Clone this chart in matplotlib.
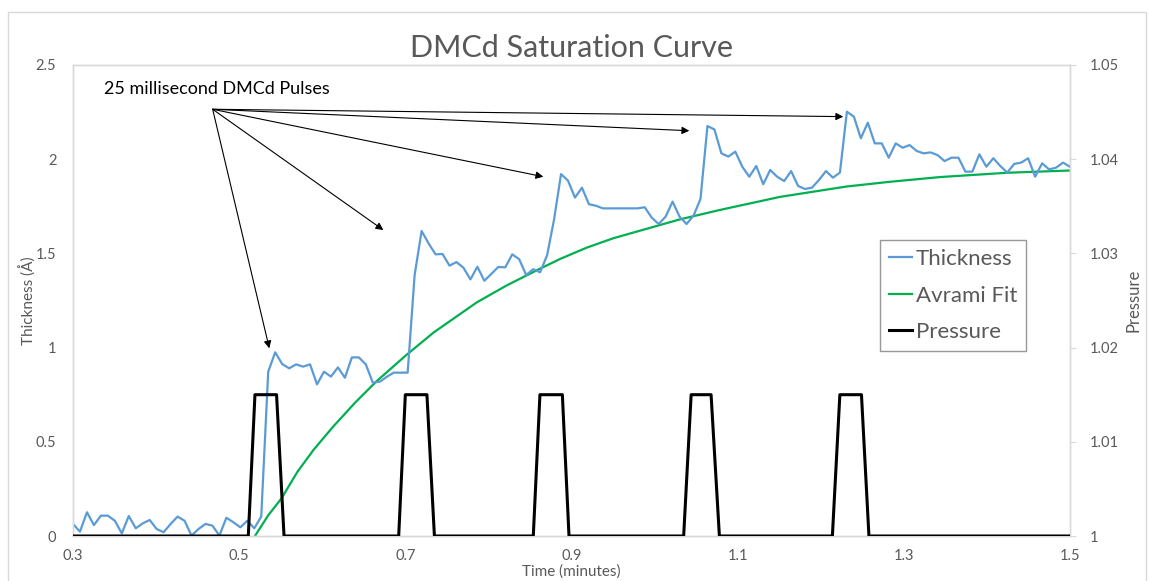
import numpy as np
import matplotlib
matplotlib.use("Agg")
import matplotlib.pyplot as plt
from matplotlib.lines import Line2D
from matplotlib.patches import Rectangle

plt.rcParams["font.family"] = ["Lato", "DejaVu Sans"]

# film thickness (Angstrom), one sample every ~0.5 s from 0.3 to 1.5 min
thickness = [
    0.064, 0.023, 0.126, 0.058, 0.108, 0.108, 0.081, 0.014, 0.106, 0.041,
    0.067, 0.085, 0.037, 0.020, 0.064, 0.103, 0.081, 0.002, 0.037, 0.064,
    0.055, 0.002, 0.097, 0.073, 0.046, 0.081, 0.041, 0.103,
    0.872, 0.975, 0.913, 0.890, 0.911, 0.899, 0.911, 0.805, 0.872, 0.846,
    0.895, 0.840, 0.948, 0.948, 0.911, 0.814, 0.819, 0.845, 0.867, 0.867,
    0.867,
    1.385, 1.619, 1.553, 1.495, 1.497, 1.435, 1.454, 1.424, 1.362, 1.429,
    1.355, 1.391, 1.428, 1.426, 1.495, 1.469, 1.385, 1.416, 1.400, 1.490,
    1.680,
    1.921, 1.886, 1.796, 1.849, 1.761, 1.753, 1.739, 1.739, 1.739, 1.739,
    1.739, 1.739, 1.745, 1.690, 1.656, 1.695, 1.775, 1.695, 1.656, 1.700,
    1.789,
    2.176, 2.158, 2.031, 2.014, 2.040, 1.960, 1.907, 1.964, 1.867, 1.943,
    1.907, 1.884, 1.937, 1.858, 1.842, 1.849, 1.890, 1.937, 1.902, 1.929,
    2.252, 2.226, 2.111, 2.194, 2.084, 2.084, 2.008, 2.084, 2.061, 2.075,
    2.044, 2.031, 2.036, 2.022, 1.990, 2.008, 2.008, 1.934, 1.934, 2.026,
    1.960, 2.005, 1.964, 1.929, 1.975, 1.982, 2.005, 1.907, 1.978, 1.946,
    1.955, 1.982, 1.960,
]
time_min = np.linspace(0.3, 1.5, len(thickness))

# Avrami fit evaluated along the run
avrami_t = [0.519, 0.535, 0.551, 0.570, 0.590, 0.613, 0.640, 0.665, 0.701,
            0.734, 0.760, 0.786, 0.822, 0.858, 0.886, 0.918, 0.950, 0.998,
            1.030, 1.078, 1.151, 1.231, 1.283, 1.343, 1.424, 1.500]
avrami_fit = [0.000, 0.110, 0.200, 0.340, 0.460, 0.580, 0.710, 0.820, 0.960,
              1.080, 1.160, 1.240, 1.330, 1.410, 1.470, 1.530, 1.580, 1.640,
              1.680, 1.730, 1.800, 1.855, 1.880, 1.905, 1.928, 1.940]

# chamber pressure trace, five 25 ms DMCd pulses
pressure_t = [0.300,
              0.511, 0.519, 0.545, 0.554,
              0.692, 0.700, 0.726, 0.735,
              0.854, 0.862, 0.889, 0.897,
              1.035, 1.044, 1.068, 1.078,
              1.214, 1.223, 1.249, 1.258,
              1.500]
pressure = [1.0,
            1.0, 1.015, 1.015, 1.0,
            1.0, 1.015, 1.015, 1.0,
            1.0, 1.015, 1.015, 1.0,
            1.0, 1.015, 1.015, 1.0,
            1.0, 1.015, 1.015, 1.0,
            1.0]

# arrow heads pointing at the thickness jump after each pulse
arrow_tips = [(0.5363, 0.996), (0.6735, 1.624), (0.8661, 1.907),
              (1.0418, 2.151), (1.2271, 2.226)]
arrow_origin = (0.4681, 2.265)

grey = "#595959"
spine_grey = "#d9d9d9"

fig = plt.figure(figsize=(11.49, 5.81), dpi=100)
ax = fig.add_axes([73 / 1149, 1 - 536 / 581, 997 / 1149, 471 / 581])
ax2 = ax.twinx()

# outer chart frame
fig.patches.append(Rectangle((8 / 1149, -0.05), 1138 / 1149, 1.05 - 12 / 581,
                             transform=fig.transFigure, fill=False,
                             edgecolor="#d9d9d9", lw=1.0))

ax.plot(time_min, thickness, color="#5B9BD5", lw=1.6, zorder=3)
ax.plot(avrami_t, avrami_fit, color="#00B050", lw=1.6, zorder=2)
ax2.plot(pressure_t, pressure, color="black", lw=2.2, zorder=4)

ax.set_xlim(0.3, 1.5)
ax.set_ylim(0, 2.5)
ax2.set_ylim(1.0, 1.05)
ax.set_xticks([0.3, 0.5, 0.7, 0.9, 1.1, 1.3, 1.5])
ax.set_xticklabels(["0.3", "0.5", "0.7", "0.9", "1.1", "1.3", "1.5"])
ax.set_yticks([0, 0.5, 1, 1.5, 2, 2.5])
ax.set_yticklabels(["0", "0.5", "1", "1.5", "2", "2.5"])
ax2.set_yticks([1.0, 1.01, 1.02, 1.03, 1.04, 1.05])
ax2.set_yticklabels(["1", "1.01", "1.02", "1.03", "1.04", "1.05"])

for a in (ax, ax2):
    for s in a.spines.values():
        s.set_color(spine_grey)
        s.set_linewidth(1.0)
ax.tick_params(axis="both", length=0, labelsize=10.5, labelcolor=grey, pad=12)
ax.tick_params(axis="x", pad=9)
ax2.tick_params(axis="y", length=4, color=spine_grey, labelsize=10.5,
                labelcolor=grey, pad=10)

ax.set_xlabel("Time (minutes)", fontsize=11, color=grey, labelpad=1)
ax.set_ylabel("Thickness (Å)", fontsize=11, color=grey, labelpad=-1)
ax2.set_ylabel("Pressure", fontsize=12, color=grey, labelpad=5)
ax.set_title("DMCd Saturation Curve", fontsize=22, color=grey, pad=6)

ax.text(0.3373, 2.373, "25 millisecond DMCd Pulses", fontsize=13,
        color="black", va="center", ha="left")
for tip in arrow_tips:
    ax.annotate("", xy=tip, xytext=arrow_origin,
                arrowprops=dict(arrowstyle="-|>", color="black", lw=0.8,
                                mutation_scale=11, shrinkA=0, shrinkB=0))

handles = [Line2D([], [], color="#5B9BD5", lw=1.6),
           Line2D([], [], color="#00B050", lw=1.6),
           Line2D([], [], color="black", lw=2.2)]
leg = ax2.legend(handles, ["Thickness", "Avrami Fit", "Pressure"],
                 loc="upper left", bbox_to_anchor=(880 / 1149, 1 - 240 / 581),
                 bbox_transform=fig.transFigure, borderaxespad=0,
                 fontsize=16, frameon=True, fancybox=False,
                 handlelength=1.05, handletextpad=0.15, labelspacing=0.75,
                 borderpad=0.4)
leg.get_frame().set_edgecolor("#7f7f7f")
leg.get_frame().set_linewidth(1.0)
for t in leg.get_texts():
    t.set_color(grey)

fig.savefig("out.png", dpi=100)
